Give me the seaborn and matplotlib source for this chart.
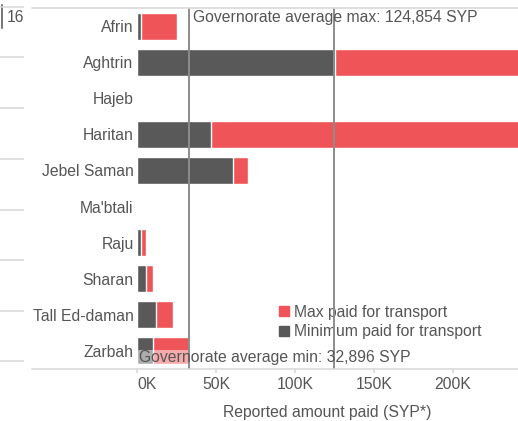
import matplotlib
matplotlib.use("Agg")
import matplotlib.pyplot as plt
from matplotlib.lines import Line2D
from matplotlib.patches import Rectangle
import numpy as np
import pandas as pd
import seaborn as sns

# Reported transport costs per sub-district (SYP)
districts = ["Afrin", "Aghtrin", "Hajeb", "Haritan", "Jebel Saman",
             "Ma'btali", "Raju", "Sharan", "Tall Ed-daman", "Zarbah"]
min_paid = [2500, 125000, np.nan, 47000, 61000, np.nan, 2500, 5700, 12000, 10000]
max_paid = [25000, 250000, np.nan, 250000, 70000, np.nan, 5700, 10000, 23000, 33000]

avg_min = 32896
avg_max = 124854

x_ticks = [0, 50000, 100000, 150000, 200000]
x_tick_labels = ["0K", "50K", "100K", "150K", "200K"]

RED = "#EF5558"
DARK = "#595959"
TEXT = "#555555"
GRID = "#d9d9d9"
FS = 11.3

df = pd.DataFrame({"district": districts, "min": min_paid, "max": max_paid})

sns.set_theme(style="white")
plt.rcParams["font.family"] = ["Liberation Sans", "DejaVu Sans"]

W, H = 518, 421
fig = plt.figure(figsize=(W / 100, H / 100), dpi=100)
ax = fig.add_axes([137 / W, 52 / H, 381 / W, 361 / H])

sns.barplot(data=df, y="district", x="max", color=RED, orient="h",
            width=0.75, saturation=1, ax=ax, zorder=2)
sns.barplot(data=df, y="district", x="min", color=DARK, orient="h",
            width=0.75, saturation=1, ax=ax, zorder=3)

ax.set_xlim(0, 241000)
ax.set_ylim(len(districts) - 0.5, -0.5)
for s in ax.spines.values():
    s.set_visible(False)

ax.set_xticks(x_ticks)
ax.set_xticklabels(x_tick_labels)
ax.tick_params(axis="x", direction="out", length=3, color=GRID,
               labelsize=FS, pad=3, bottom=True, labelcolor=TEXT)
ax.get_xticklabels()[0].set_horizontalalignment("left")
ax.tick_params(axis="y", length=0, labelsize=FS, pad=2.5, labelcolor=TEXT)
ax.set_ylabel("")
ax.set_xlabel("Reported amount paid (SYP*)", fontsize=FS, color=TEXT, labelpad=9)

# Governorate average reference lines
ax.axvline(avg_min, color="#8c8c8c", lw=1.4, zorder=6)
ax.axvline(avg_max, color="#8c8c8c", lw=1.4, zorder=6)
ax.text(avg_min + 2500, -0.5 + 0.25, "Governorate average max: 124,854 SYP",
        fontsize=FS, color=TEXT, va="center", ha="left", zorder=7)

# Label band for the minimum average
ax.add_patch(Rectangle((0, 8.97), avg_min, 0.405, facecolor="white",
                       edgecolor="none", alpha=0.5, zorder=5))
ax.text(1300, 9.17, "Governorate average min: 32,896 SYP",
        fontsize=FS, color=TEXT, va="center", ha="left", zorder=7)

# Legend
handles = [Line2D([], [], marker="s", ls="", color=RED, markersize=7),
           Line2D([], [], marker="s", ls="", color=DARK, markersize=7)]
ax.legend(handles, ["Max paid for transport", "Minimum paid for transport"],
          loc="lower left", bbox_to_anchor=(0.352, 0.06), frameon=False,
          fontsize=FS, labelcolor=TEXT, handlelength=0.6, handletextpad=0.35,
          labelspacing=0.3, borderpad=0)

# Frame lines spanning the label column
for yy in (8, 369):
    fig.add_artist(Line2D([32 / W, 1], [1 - yy / H, 1 - yy / H],
                          color=GRID, lw=1.2))

# Edge of the neighbouring panel
side = fig.add_axes([0, 0, 24 / W, 1])
side.set_xlim(0, 24)
side.set_ylim(H, 0)
side.axis("off")
for yy in (7, 57, 108, 159, 210, 260, 311, 361):
    side.axhline(yy, color=GRID, lw=1.2)
side.bar(1.5, 26, bottom=3, width=3, color=DARK)
fig.text(7 / W, 1 - 17 / H, "16", fontsize=FS, color=TEXT, va="center", ha="left")

fig.savefig("out.png", dpi=100)
